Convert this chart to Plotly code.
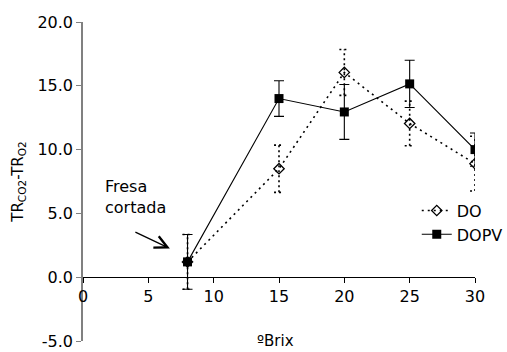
import plotly.graph_objects as go

# Soluble solids (ºBrix) and respiration difference TR_CO2 - TR_O2
brix = [8, 15, 20, 25, 30]

do_vals = [1.2, 8.5, 16.05, 12.05, 8.9]
do_err = [2.15, 1.85, 1.8, 1.75, 2.15]

dopv_vals = [1.2, 14.0, 12.95, 15.15, 10.0]
dopv_err = [2.15, 1.4, 2.15, 1.85, 1.3]

y_ticks = [-5, 0, 5, 10, 15, 20]
y_tick_text = ["-5.0", "0.0", "5.0", "10.0", "15.0", "20.0"]
x_ticks = [0, 5, 10, 15, 20, 25, 30]

FONT = "DejaVu Sans, Verdana, sans-serif"
CAP = 0.38  # half-width of the dotted error-bar caps, in x units

# dotted error bars for DO, built from the values and errors
ex, ey = [], []
for x, v, e in zip(brix, do_vals, do_err):
    lo, hi = v - e, v + e
    ex += [x, x, None, x - CAP, x + CAP, None, x - CAP, x + CAP, None]
    ey += [lo, hi, None, lo, lo, None, hi, hi, None]

fig = go.Figure()

fig.add_trace(go.Scatter(
    x=ex, y=ey, mode="lines", showlegend=False, hoverinfo="skip",
    line=dict(color="black", width=1.6, dash="2px,3px"),
))

fig.add_trace(go.Scatter(
    x=brix, y=dopv_vals, name="DOPV", mode="lines+markers",
    line=dict(color="black", width=1.1),
    marker=dict(symbol="square", size=9, color="black"),
    error_y=dict(type="data", array=dopv_err, visible=True,
                 color="black", thickness=1.1, width=5),
))

fig.add_trace(go.Scatter(
    x=brix, y=do_vals, name="DO", mode="lines+markers",
    line=dict(color="black", width=1.6, dash="2px,4px"),
    marker=dict(symbol="diamond-open", size=8, color="black",
                line=dict(width=1.3, color="black")),
))

# arrow pointing at the cut-strawberry starting point
fig.add_annotation(
    x=6.65, y=2.25, xref="x", yref="y",
    ax=-36, ay=-17, axref="pixel", ayref="pixel",
    showarrow=True, arrowhead=5, arrowsize=1.9, arrowwidth=1.3,
    arrowcolor="black", text="",
)
fig.add_annotation(
    x=1.5, y=6.3, xref="x", yref="y", xanchor="left", yanchor="middle",
    showarrow=False, align="left",
    text="Fresa<br>cortada",
    font=dict(family=FONT, size=16, color="black"),
)
fig.add_annotation(
    x=0.49, y=-0.035, xref="paper", yref="paper", xanchor="center", yanchor="bottom",
    showarrow=False, text="ºBrix",
    font=dict(family=FONT, size=15, color="black"),
)

fig.update_layout(
    width=507, height=352,
    margin=dict(l=83, r=32, t=22, b=11, autoexpand=False),
    paper_bgcolor="white", plot_bgcolor="white",
    font=dict(family=FONT, size=16, color="black"),
    legend=dict(
        xref="container", yref="container",
        x=0.822, y=0.45, xanchor="left", yanchor="top",
        bgcolor="rgba(0,0,0,0)", traceorder="reversed",
        font=dict(family=FONT, size=16, color="black"),
        tracegroupgap=0,
    ),
    xaxis=dict(
        range=[0, 30], tickvals=x_ticks, showgrid=False, zeroline=False,
        showline=True, linecolor="black", linewidth=1,
        ticks="outside", ticklen=5, tickcolor="black",
        anchor="free", position=0.2, automargin=False,
        tickfont=dict(family=FONT, size=16, color="black"),
    ),
    yaxis=dict(
        range=[-5, 20], tickvals=y_ticks, ticktext=y_tick_text,
        showgrid=False, zeroline=False, automargin=False,
        showline=True, linecolor="#808080", linewidth=1.5,
        ticks="outside", ticklen=5, tickcolor="#808080",
        tickfont=dict(family=FONT, size=16, color="black"),
        title=dict(text="TR<sub>CO2</sub>-TR<sub>O2</sub>",
                   font=dict(family=FONT, size=15, color="black"),
                   standoff=10),
    ),
)

fig.write_html("out.html")
